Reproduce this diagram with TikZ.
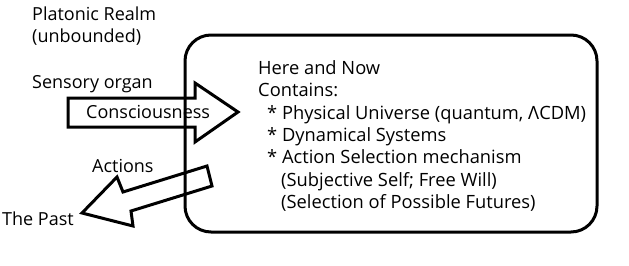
\documentclass[tikz,border=0pt]{standalone}
\usepackage{fontspec}
\setmainfont{Open Sans}
\begin{document}
\begin{tikzpicture}[x=1pt,y=-1pt,
  lbl/.style={anchor=base west,inner sep=0pt,font=\fontsize{18}{22.3}\selectfont},
  boxtxt/.style={anchor=north west,inner sep=0pt,align=left,font=\fontsize{18.3}{22.3}\selectfont},
  outl/.style={draw=black,line width=3pt,line join=miter}]
\useasboundingbox (0,0) rectangle (629,265);
% main box
\draw[line width=3pt,rounded corners=26pt] (185,35) rectangle (597,232);
% consciousness arrow
\coordinate (ctip) at (238,112);
\draw[outl] (68,98) -- (195,98) -- (195,83) -- (ctip) -- (195,142) -- (195,127) -- (68,127) -- cycle;
% actions arrow
\coordinate (atip) at (82,213);
\draw[outl] (207,166) -- (212,186) -- (131,211) -- (133,226) -- (atip) -- (117,177) -- (123,192) -- cycle;
% labels
\node[lbl] (plat) at (32,20.7) {Platonic Realm};
\node[lbl] (unb) at (32,42) {(unbounded)};
\node[lbl] (sens) at (32,88) {Sensory organ};
\node[lbl] (cons) at (86,118) {Consciousness};
\node[lbl] (act) at (92,172) {Actions};
\node[lbl] (past) at (2,225) {The Past};
\node[boxtxt] (here) at (258,60.5) {Here and Now\\
Contains:\\
\hspace*{9pt}* Physical Universe (quantum, ΛCDM)\\
\hspace*{9pt}* Dynamical Systems\\
\hspace*{9pt}* Action Selection mechanism\\
\hspace*{23pt}(Subjective Self; Free Will)\\
\hspace*{23pt}(Selection of Possible Futures)};
\end{tikzpicture}
\end{document}
